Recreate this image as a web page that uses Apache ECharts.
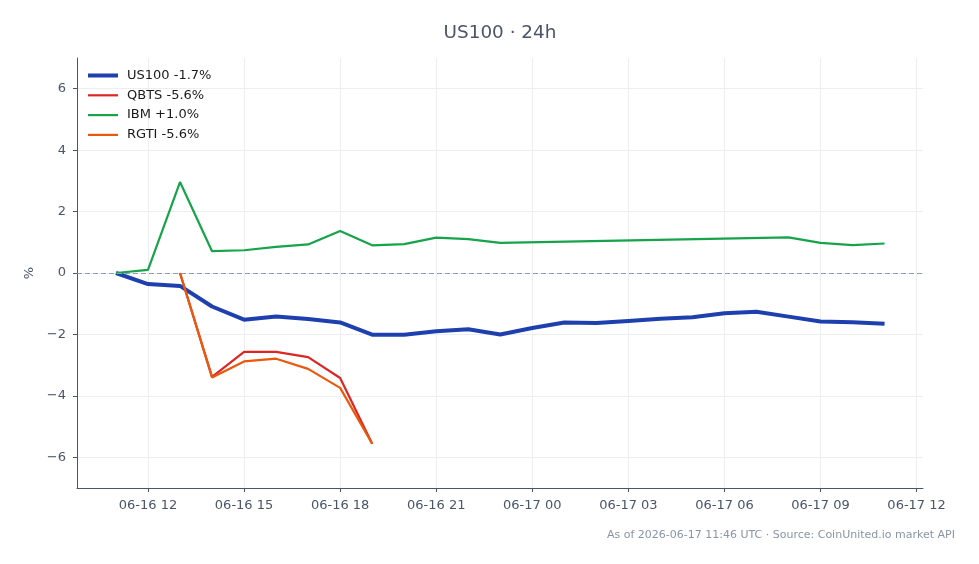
<!DOCTYPE html>
<html>
<head>
<meta charset="utf-8">
<script src="https://cdn.jsdelivr.net/npm/echarts@6/dist/echarts.min.js"></script>
<style>
html,body{margin:0;padding:0;background:#fff;}
#chart{width:979px;height:564px;}
</style>
</head>
<body>
<div id="chart"></div>
<script>
// ---- data ----
const times = [
  '2026-06-16T11:00:00Z','2026-06-16T12:00:00Z','2026-06-16T13:00:00Z','2026-06-16T14:00:00Z',
  '2026-06-16T15:00:00Z','2026-06-16T16:00:00Z','2026-06-16T17:00:00Z','2026-06-16T18:00:00Z',
  '2026-06-16T19:00:00Z','2026-06-16T20:00:00Z','2026-06-16T21:00:00Z','2026-06-16T22:00:00Z',
  '2026-06-16T23:00:00Z','2026-06-17T00:00:00Z','2026-06-17T01:00:00Z','2026-06-17T02:00:00Z',
  '2026-06-17T03:00:00Z','2026-06-17T04:00:00Z','2026-06-17T05:00:00Z','2026-06-17T06:00:00Z',
  '2026-06-17T07:00:00Z','2026-06-17T08:00:00Z','2026-06-17T09:00:00Z','2026-06-17T10:00:00Z',
  '2026-06-17T11:00:00Z'
];
const us100 = [0, -0.36, -0.42, -1.09, -1.52, -1.42, -1.50, -1.61, -2.01, -2.01, -1.90, -1.83,
  -2.00, -1.79, -1.61, -1.63, -1.56, -1.49, -1.44, -1.31, -1.26, -1.42, -1.58, -1.60, -1.65];
const qbts = [null, null, 0, -3.38, -2.57, -2.57, -2.74, -3.42, -5.56];
const ibm = [0, 0.10, 2.96, 0.71, 0.74, 0.85, 0.93, 1.37, 0.90, 0.94, 1.15, 1.10, 0.98,
  null, null, null, null, null, null, null, null, 1.16, 0.98, 0.91, 0.96];
const rgti = [null, null, 0, -3.40, -2.88, -2.79, -3.12, -3.74, -5.56];

const seriesNames = ['US100 -1.7%', 'QBTS -5.6%', 'IBM +1.0%', 'RGTI -5.6%'];
const seriesColors = ['#1e40af', '#dc2626', '#16a34a', '#ea580c'];

const xTickLabels = ['2026-06-16T12:00:00Z','2026-06-16T15:00:00Z','2026-06-16T18:00:00Z',
  '2026-06-16T21:00:00Z','2026-06-17T00:00:00Z','2026-06-17T03:00:00Z','2026-06-17T06:00:00Z',
  '2026-06-17T09:00:00Z','2026-06-17T12:00:00Z'];
const yTicks = [-6, -4, -2, 0, 2, 4, 6];
const xMin = '2026-06-16T09:47:00Z';
const xMax = '2026-06-17T12:12:00Z';

// ---- build ----
const pairs = arr => arr.map((v, i) => [Date.parse(times[i]), v]);
const xTickVals = xTickLabels.map(s => Date.parse(s));
const pad = n => (n < 10 ? '0' : '') + n;
const fmt = v => { const d = new Date(v); return pad(d.getUTCMonth()+1) + '-' + pad(d.getUTCDate()) + ' ' + pad(d.getUTCHours()); };
const lineWidths = [4, 2.2, 2.2, 2.2];

const FONT = 'DejaVu Sans';
const chart = echarts.init(document.getElementById('chart'), null, {renderer: 'canvas'});
const option = {
  animation: false,
  backgroundColor: '#fff',
  textStyle: {fontFamily: FONT},
  legend: {
    orient: 'vertical', left: 88, top: 69, padding: 0, itemWidth: 30, itemHeight: 14, itemGap: 6.8,
    symbolKeepAspect: true,
    data: seriesNames.map((n, i) => ({name: n, icon: 'path://M0,0H30V' + lineWidths[i] + 'H0Z'})),
    textStyle: {fontFamily: FONT, fontSize: 13, color: '#1a1a1a', padding: [0, 0, 0, 4]}
  },
  grid: {left: 77, right: 56, top: 58, bottom: 76, containLabel: false},
  xAxis: {
    type: 'value', min: Date.parse(xMin), max: Date.parse(xMax),
    axisLine: {show: true, onZero: false, lineStyle: {color: '#4a5568', width: 1}},
    axisTick: {show: true, length: 4, lineStyle: {color: '#4a5568'}, customValues: xTickVals},
    axisLabel: {customValues: xTickVals, formatter: v => fmt(v), color: '#4a5568', fontSize: 13, fontFamily: FONT, margin: 11},
    splitLine: {show: true, lineStyle: {color: '#eceef2', width: 1}}
  },
  yAxis: {
    type: 'value', min: -7, max: 7,
    name: '%', nameLocation: 'middle', nameGap: 40, nameRotate: 90,
    nameTextStyle: {fontFamily: FONT, fontSize: 13, color: '#4a5568'},
    axisLine: {show: true, onZero: false, lineStyle: {color: '#4a5568', width: 1}},
    axisTick: {show: true, length: 4, lineStyle: {color: '#4a5568'}, customValues: yTicks},
    axisLabel: {customValues: yTicks, formatter: v => String(v).replace('-', '\u2212'),
      color: '#4a5568', fontSize: 13, fontFamily: FONT, margin: 11},
    splitLine: {show: true, lineStyle: {color: '#eceef2', width: 1}}
  },
  series: [
    {name: seriesNames[0], type: 'line', data: pairs(us100), symbol: 'none', z: 2,
      lineStyle: {color: seriesColors[0], width: lineWidths[0]}, itemStyle: {color: seriesColors[0]},
      markLine: {silent: true, symbol: ['none', 'none'], label: {show: false},
        lineStyle: {color: '#8a9fc0', type: [5, 3], width: 1}, data: [{yAxis: 0}]}},
    {name: seriesNames[1], type: 'line', data: pairs(qbts), symbol: 'none', z: 3,
      lineStyle: {color: seriesColors[1], width: lineWidths[1]}, itemStyle: {color: seriesColors[1]}},
    {name: seriesNames[2], type: 'line', data: pairs(ibm), symbol: 'none', connectNulls: true, z: 4,
      lineStyle: {color: seriesColors[2], width: lineWidths[2]}, itemStyle: {color: seriesColors[2]}},
    {name: seriesNames[3], type: 'line', data: pairs(rgti), symbol: 'none', z: 5,
      lineStyle: {color: seriesColors[3], width: lineWidths[3]}, itemStyle: {color: seriesColors[3]}}
  ],
  graphic: [
    {type: 'text', x: 500, y: 33,
      style: {text: 'US100 · 24h', fontFamily: FONT, fontSize: 18.4, fill: '#4a5568',
        textAlign: 'center', textVerticalAlign: 'middle'}},
    {type: 'text', right: 24, top: 530,
      style: {text: 'As of 2026-06-17 11:46 UTC · Source: CoinUnited.io market API',
        fontFamily: FONT, fontSize: 11, fill: '#8a94a6'}}
  ]
};
chart.setOption(option);
</script>
</body>
</html>
